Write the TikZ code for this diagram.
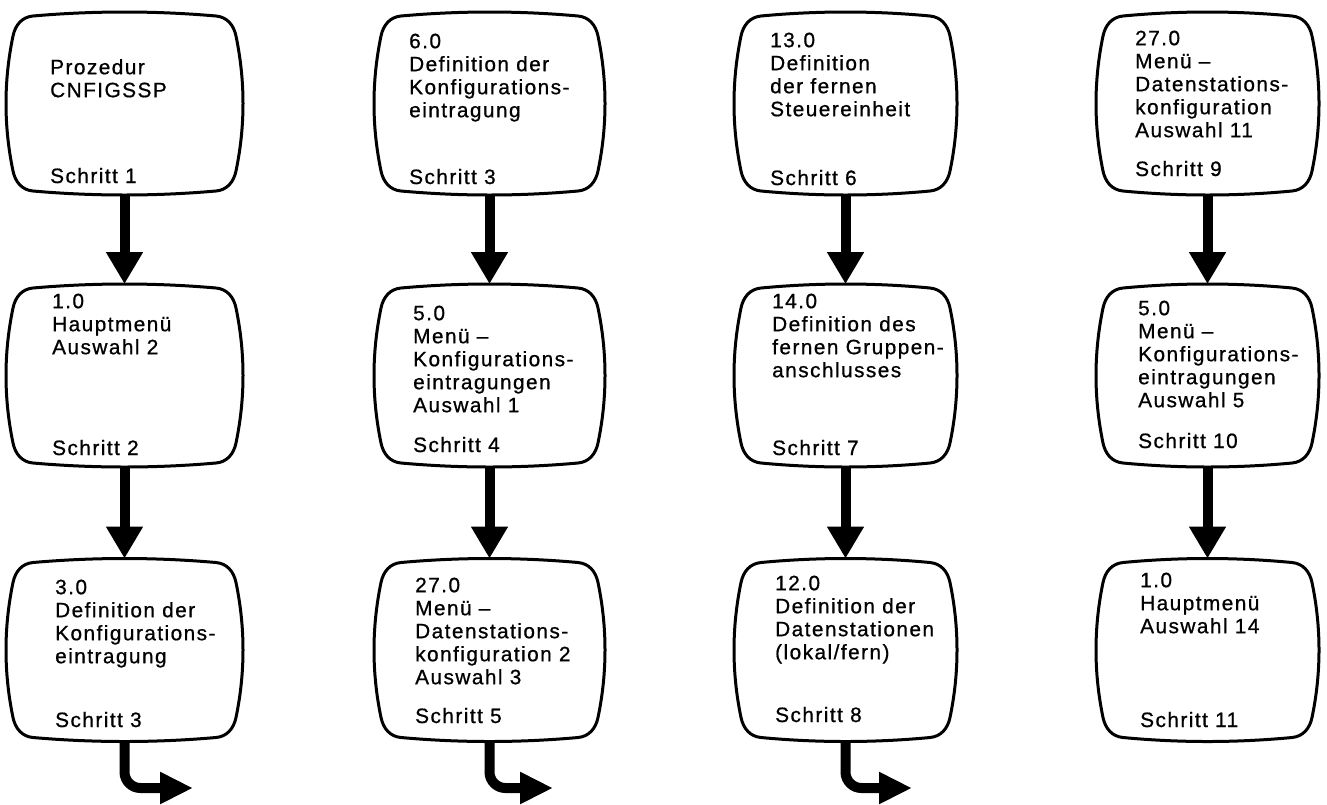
\documentclass[tikz,border=0pt]{standalone}
\usepackage{fontspec}
\setmainfont{Liberation Sans}[LetterSpace=7,FakeBold=0.8]
\usetikzlibrary{arrows.meta}
\tikzset{
  tvline/.style={line width=3pt, line join=round},
  tvnode/.style={inner sep=0pt, outer sep=0pt, draw=none},
  txt/.style={anchor=north west, inner sep=0pt, align=left, font=\fontsize{20.8}{23}\selectfont},
  lbl/.style={anchor=base west, inner sep=0pt, font=\fontsize{20.8}{23}\selectfont},
  flow/.style={line width=10pt, -{Triangle[width=35pt,length=32pt]}},
  exitarrow/.style={line width=10pt, rounded corners=16pt, -{Triangle[width=30pt,length=33pt]}},
}
\newcommand{\tvoutline}[3]{%
  \pgfmathsetmacro{\tvXI}{#2-7}%
  \pgfmathsetmacro{\tvYI}{#3-4}%
  \pgfmathsetmacro{\tvXC}{\tvXI-20}%
  \pgfmathsetmacro{\tvYC}{\tvYI-20}%
  \pgfmathsetmacro{\tvTY}{#3+4/3}%
  \pgfmathsetmacro{\tvSX}{#2+7/3}%
  \pgfmathsetmacro{\tvDa}{11*8/\tvXC}%
  \pgfmathsetmacro{\tvDb}{11*14/\tvYC}%
  \draw[tvline,shift={(#1.center)}]
   ({-\tvXC},{-\tvYI}) .. controls ({-\tvXC/3},{-\tvTY}) and ({\tvXC/3},{-\tvTY}) .. ({\tvXC},{-\tvYI})
   .. controls ({\tvXC+11},{-\tvYI+\tvDa}) and ({\tvXI-\tvDb},{-\tvYC-11}) .. ({\tvXI},{-\tvYC})
   .. controls ({\tvSX},{-\tvYC/3}) and ({\tvSX},{\tvYC/3}) .. ({\tvXI},{\tvYC})
   .. controls ({\tvXI-\tvDb},{\tvYC+11}) and ({\tvXC+11},{\tvYI-\tvDa}) .. ({\tvXC},{\tvYI})
   .. controls ({\tvXC/3},{\tvTY}) and ({-\tvXC/3},{\tvTY}) .. ({-\tvXC},{\tvYI})
   .. controls ({-\tvXC-11},{\tvYI-\tvDa}) and ({-\tvXI+\tvDb},{\tvYC+11}) .. ({-\tvXI},{\tvYC})
   .. controls ({-\tvSX},{\tvYC/3}) and ({-\tvSX},{-\tvYC/3}) .. ({-\tvXI},{-\tvYC})
   .. controls ({-\tvXI+\tvDb},{-\tvYC-11}) and ({-\tvXC-11},{-\tvYI+\tvDa}) .. cycle;}
\newcommand{\tv}[5]{%
  \pgfmathsetmacro{\tvW}{2*#4}\pgfmathsetmacro{\tvH}{2*#5}%
  \node[tvnode, minimum width=\tvW pt, minimum height=\tvH pt] (#1) at (#2,#3) {};%
  \tvoutline{#1}{#4}{#5}}
\begin{document}
\begin{tikzpicture}[x=1pt,y=-1pt]
\fill[white] (0,0) rectangle (1327,804);
\useasboundingbox (0,0) rectangle (1327,804);
% boxes
\tv{b11}{124.5}{103.5}{118.5}{91.5}
\tv{b12}{124.5}{375.5}{118.5}{91.5}
\tv{b13}{124.5}{650}{118.5}{91.5}
\tv{b21}{489.5}{103.5}{115.5}{91.5}
\tv{b22}{489.5}{375.5}{115.5}{91.5}
\tv{b23}{489.5}{650}{115.5}{91.5}
\tv{b31}{845.5}{103.5}{111.5}{91.5}
\tv{b32}{845.5}{375.5}{111.5}{91.5}
\tv{b33}{845.5}{650}{111.5}{91.5}
\tv{b41}{1207.5}{103.5}{111.5}{91.5}
\tv{b42}{1207.5}{375.5}{111.5}{91.5}
\tv{b43}{1207.5}{650}{111.5}{91.5}
% texts
\node[txt] (t11) at (50,58) {\rule{0pt}{16pt}Prozedur\\CNFIGSSP};
\node[lbl] (s11) at (50,183) {Schritt 1};
\node[txt] (t12) at (52,292) {\rule{0pt}{16pt}1.0\\Hauptmenü\\Auswahl 2};
\node[lbl] (s12) at (52,455) {Schritt 2};
\node[txt] (t13) at (55,578) {\rule{0pt}{16pt}3.0\\Definition der\\Konfigurations-\\eintragung};
\node[lbl] (s13) at (55,727) {Schritt 3};
\node[txt] (t21) at (409,32) {\rule{0pt}{16pt}6.0\\Definition der\\Konfigurations-\\eintragung};
\node[lbl] (s21) at (409,184) {Schritt 3};
\node[txt] (t22) at (413,304) {\rule{0pt}{16pt}5.0\\Menü –\\Konfigurations-\\eintragungen\\Auswahl 1};
\node[lbl] (s22) at (413,452) {Schritt 4};
\node[txt] (t23) at (415,576) {\rule{0pt}{16pt}27.0\\Menü –\\Datenstations-\\konfiguration 2\\Auswahl 3};
\node[lbl] (s23) at (415,723) {Schritt 5};
\node[txt] (t31) at (770,31) {\rule{0pt}{16pt}13.0\\Definition\\der fernen\\Steuereinheit};
\node[lbl] (s31) at (770,185) {Schritt 6};
\node[txt] (t32) at (772,292) {\rule{0pt}{16pt}14.0\\Definition des\\fernen Gruppen-\\anschlusses};
\node[lbl] (s32) at (772,455) {Schritt 7};
\node[txt] (t33) at (775,574) {\rule{0pt}{16pt}12.0\\Definition der\\Datenstationen\\(lokal/fern)};
\node[lbl] (s33) at (775,722) {Schritt 8};
\node[txt] (t41) at (1135,29) {\rule{0pt}{16pt}27.0\\Menü –\\Datenstations-\\konfiguration\\Auswahl 11};
\node[lbl] (s41) at (1135,176) {Schritt 9};
\node[txt] (t42) at (1138,299) {\rule{0pt}{16pt}5.0\\Menü –\\Konfigurations-\\eintragungen\\Auswahl 5};
\node[lbl] (s42) at (1138,448) {Schritt 10};
\node[txt] (t43) at (1140,571) {\rule{0pt}{16pt}1.0\\Hauptmenü\\Auswahl 14};
\node[lbl] (s43) at (1140,727) {Schritt 11};
% arrows
\draw[flow] (b11.south) -- (b12.north);
\draw[flow] (b12.south) -- (b13.north);
\draw[flow] (b21.south) -- (b22.north);
\draw[flow] (b22.south) -- (b23.north);
\draw[flow] (b31.south) -- (b32.north);
\draw[flow] (b32.south) -- (b33.north);
\draw[flow] (b41.south) -- (b42.north);
\draw[flow] (b42.south) -- (b43.north);
\coordinate (e1) at (193,788);
\coordinate (e2) at (553,788);
\coordinate (e3) at (912,788);
\draw[exitarrow] (b13.south) |- (e1);
\draw[exitarrow] (b23.south) |- (e2);
\draw[exitarrow] (b33.south) |- (e3);
\end{tikzpicture}
\end{document}
